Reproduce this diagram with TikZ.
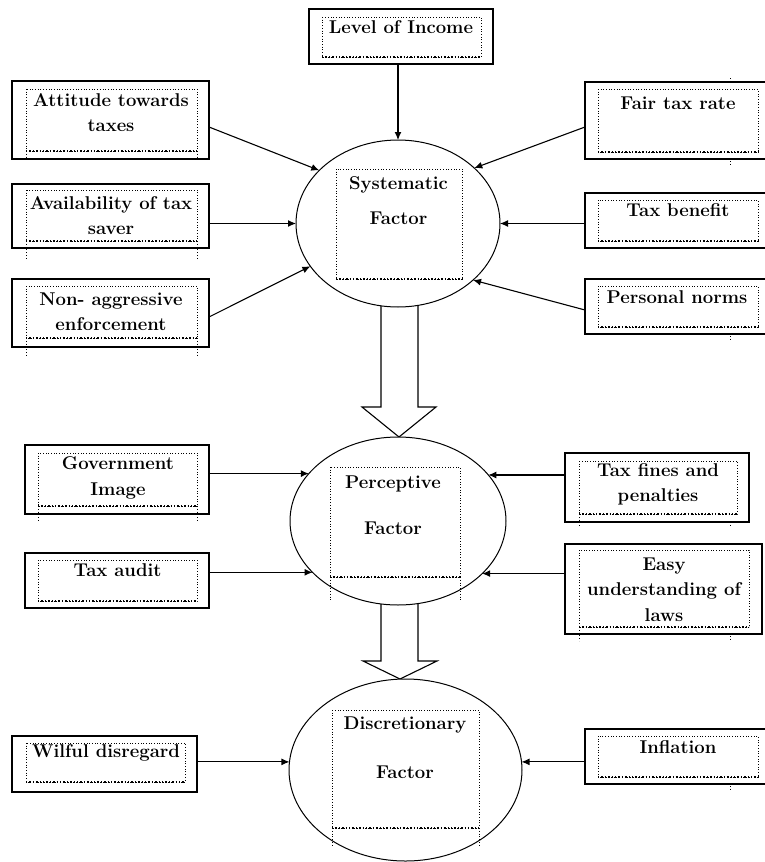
\documentclass[tikz,border=0pt]{standalone}
\usepackage{fontspec}
\usetikzlibrary{arrows.meta,shapes.geometric,fit,calc}
\tikzset{
 obox/.style={draw, line width=1.2pt, inner sep=0pt, outer sep=0pt},
 ibox/.style={draw, dotted, line width=0.7pt},
 ibottom/.style={dotted, line width=1.4pt},
 ileg/.style={dotted, line width=0.8pt},
 fac/.style={draw, ellipse, line width=1pt, inner sep=0pt, outer sep=0pt, fill=white},
 txt/.style={font=\fontsize{18.5}{25}\selectfont\bfseries, align=center, inner sep=0pt},
 arr/.style={-{Latex[length=8pt,width=7pt]}, line width=1.1pt},
 hollow/.style={draw, line width=1.1pt, fill=white, line join=miter}
}
\newcommand\innerbox[4]{\draw[ibox] (#1,#2) rectangle (#3,#4); \draw[ibottom] (#1,#4) -- (#3,#4);}
\newcommand\twolegs[4]{\draw[ileg] (#1,#3) -- (#1,#4); \draw[ileg] (#2,#3) -- (#2,#4);}
\begin{document}
\begin{tikzpicture}[x=1pt,y=-1pt]
\useasboundingbox (0,0) rectangle (764,862);

\coordinate (h1) at (398,300);
\coordinate (h2) at (400,600);

% outer boxes
\node[obox, fit={(309,9) (493,64)}] (lev) {};
\node[obox, fit={(12,81) (209,159)}] (att) {};
\node[obox, fit={(12,184) (209,248)}] (avail) {};
\node[obox, fit={(12,279) (209,347)}] (non) {};
\node[obox, fit={(585,82) (768,159)}] (fair) {};
\node[obox, fit={(585,193) (768,248)}] (ben) {};
\node[obox, fit={(585,279) (768,334)}] (pn) {};
\node[obox, fit={(25,445) (209,514)}] (gov) {};
\node[obox, fit={(25,553) (209,608)}] (audit) {};
\node[obox, fit={(565,453) (749,522)}] (fines) {};
\node[obox, fit={(565,544) (762,634)}] (easy) {};
\node[obox, fit={(12,736) (197,792)}] (wil) {};
\node[obox, fit={(585,729) (768,784)}] (inf) {};

% hollow arrows
\draw[hollow] ($(h1)+(-17,0)$) -- (381,407) -- (362,407) -- (399,437) -- (436,407) -- (418,407) -- ($(h1)+(20,0)$);
\draw[hollow] ($(h2)+(-19,0)$) -- (381,661) -- (363,661) -- (400,679) -- (437,661) -- (418,661) -- ($(h2)+(18,0)$);

% factor ellipses
\node[fac, minimum width=204pt, minimum height=167pt] (sys) at (398,223.5) {};
\node[fac, minimum width=216pt, minimum height=168pt] (per) at (398,521) {};
\node[fac, minimum width=233pt, minimum height=182pt] (dis) at (405.5,770) {};

% inner dotted boxes
\innerbox{322}{17}{481}{57}
\innerbox{26}{89}{197}{151}   \twolegs{26}{197}{151}{157}
\innerbox{26}{190}{197}{241}  \twolegs{26}{197}{241}{258}
\innerbox{26}{286}{197}{338}  \twolegs{26}{197}{338}{355}
\innerbox{598}{89}{758}{152}  \draw[ileg] (730,78) -- (730,82); \draw[ileg] (730,161) -- (730,165);
\innerbox{598}{200}{758}{241}
\innerbox{598}{286}{758}{327} \draw[ileg] (730,336) -- (730,340);
\innerbox{336}{169}{462}{279}
\innerbox{38}{453}{197}{506}  \twolegs{38}{197}{506}{522}
\innerbox{38}{560}{197}{601}
\innerbox{330}{467}{460}{577} \twolegs{330}{460}{577}{602}
\innerbox{579}{461}{737}{514} \draw[ileg] (579,514) -- (579,526); \draw[ileg] (730,522) -- (730,526);
\innerbox{579}{550}{749}{627} \draw[ileg] (579,627) -- (579,641); \draw[ileg] (730,636) -- (730,641);
\innerbox{332}{710}{479}{828} \twolegs{332}{479}{828}{847}
\innerbox{26}{743}{185}{782}
\innerbox{598}{736}{758}{777} \draw[ileg] (730,786) -- (730,789);

% texts
\node[txt] (levT) at (401,27) {Level of Income};
\node[txt] (attT) at (111,112.5) {Attitude towards\\taxes};
\node[txt] (availT) at (111,215.5) {Availability of tax\\saver};
\node[txt] (nonT) at (111,311.5) {Non- aggressive\\enforcement};
\node[txt] (fairT) at (678,103) {Fair tax rate};
\node[txt] (benT) at (678,210) {Tax benefit};
\node[txt] (pnT) at (677,297) {Personal norms};
\node[txt, font=\fontsize{18.5}{35}\selectfont\bfseries] (sysT) at (398.5,200.5) {Systematic\\Factor};
\node[txt, font=\fontsize{18.5}{26}\selectfont\bfseries] (govT) at (118,478) {Government\\Image};
\node[txt] (auditT) at (117.5,570) {Tax audit};
\node[txt, font=\fontsize{18.5}{46}\selectfont\bfseries] (perT) at (393,505) {Perceptive\\Factor};
\node[txt] (finesT) at (658,484.5) {Tax fines and\\penalties};
\node[txt, font=\fontsize{18.5}{25.5}\selectfont\bfseries] (easyT) at (664,589.5) {Easy\\understanding of\\laws};
\node[txt, font=\fontsize{18.5}{49}\selectfont\bfseries] (disT) at (405,747.5) {Discretionary\\Factor};
\node[txt] (wilT) at (106,753) {Wilful disregard};
\node[txt] (infT) at (678,747) {Inflation};

% connectors
\draw[arr] (sys.north |- lev.south) -- (sys.north);
\draw[arr] ([yshift=-7pt]att.east) -- (sys.146);
\draw[arr] (sys.west -| avail.east) -- (sys.west);
\draw[arr] ([yshift=-4pt]non.east) -- (sys.206);
\draw[arr] ([yshift=-6.5pt]fair.west) -- (sys.36);
\draw[arr] (sys.east -| ben.west) -- (sys.east);
\draw[arr] ([yshift=-3.5pt]pn.west) -- (sys.323);
\draw[arr] (gov.east |- per.152) -- (per.152);
\draw[arr] (audit.east |- per.211) -- (per.211);
\draw[arr] (fines.west |- per.27) -- (per.27);
\draw[arr] (easy.west |- per.328) -- (per.328);
\draw[arr] (wil.east |- dis.176) -- (dis.176);
\draw[arr] (inf.west |- dis.4) -- (dis.4);
\end{tikzpicture}
\end{document}
